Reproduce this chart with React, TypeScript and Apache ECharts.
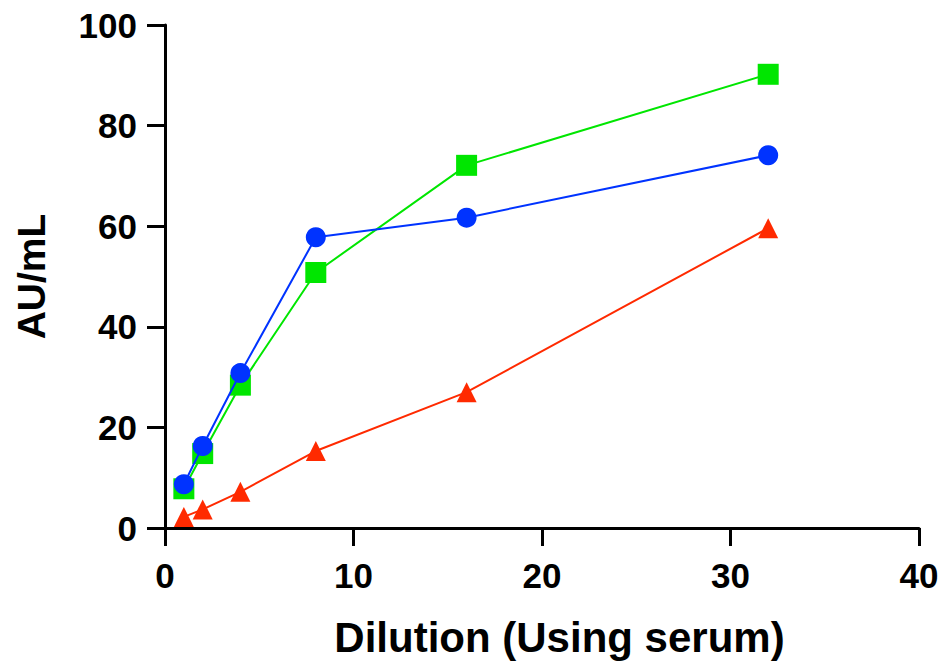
import React, { useEffect, useRef } from "react";
import * as echarts from "echarts";

const dilutions = [1, 2, 4, 8, 16, 32];
const blueCircles = [8.7, 16.3, 30.8, 57.8, 61.7, 74.1];
const greenSquares = [7.8, 14.8, 28.4, 50.8, 72.1, 90.2];
const redTriangles = [2.2, 3.7, 7.2, 15.3, 27.0, 59.6];

const xTitle = "Dilution (Using serum)";
const yTitle = "AU/mL";

const FONT = "Liberation Sans, Arial, Helvetica, sans-serif";

export default function App() {
  const ref = useRef<HTMLDivElement>(null);
  useEffect(() => {
    if (!ref.current) return;
    const chart = echarts.init(ref.current, undefined, { renderer: "svg" });
    const pairs = (ys: number[]) => dilutions.map((x, i) => [x, ys[i]]);
    const axisCommon = {
      axisLine: { show: true, lineStyle: { color: "#000", width: 3 } },
      axisTick: { show: true, length: 18, lineStyle: { color: "#000", width: 3 } },
      splitLine: { show: false },
    };
    chart.setOption({
      animation: false,
      backgroundColor: "#fff",
      grid: { left: 165, right: 27, top: 25, bottom: 136, containLabel: false },
      xAxis: {
        type: "value",
        min: 0,
        max: 40,
        interval: 10,
        name: xTitle,
        nameLocation: "middle",
        nameGap: 88,
        nameTextStyle: {
          fontFamily: FONT,
          fontWeight: "bold",
          fontSize: 42,
          color: "#000",
          padding: [0, 0, 0, 35],
        },
        ...axisCommon,
        axisLabel: { fontFamily: FONT, fontWeight: "bold", fontSize: 35, color: "#000", margin: 30 },
      },
      yAxis: {
        type: "value",
        min: 0,
        max: 100,
        interval: 20,
        name: yTitle,
        nameLocation: "middle",
        nameGap: 114,
        nameTextStyle: { fontFamily: FONT, fontWeight: "bold", fontSize: 39, color: "#000" },
        ...axisCommon,
        axisLabel: { fontFamily: FONT, fontWeight: "bold", fontSize: 35, color: "#000", margin: 28 },
      },
      series: [
        {
          type: "line",
          data: pairs(redTriangles),
          symbol: "triangle",
          symbolSize: 20,
          itemStyle: { color: "#ff2a00" },
          lineStyle: { color: "#ff2a00", width: 2 },
          z: 2,
        },
        {
          type: "line",
          data: pairs(greenSquares),
          symbol: "rect",
          symbolSize: 21,
          itemStyle: { color: "#00e600" },
          lineStyle: { color: "#00e600", width: 2 },
          z: 3,
        },
        {
          type: "line",
          data: pairs(blueCircles),
          symbol: "circle",
          symbolSize: 20,
          itemStyle: { color: "#0033ff" },
          lineStyle: { color: "#0033ff", width: 2 },
          z: 4,
        },
      ],
    });
    return () => chart.dispose();
  }, []);
  return (
    <div
      ref={ref}
      style={{ position: "absolute", left: 0, top: 0, width: 946, height: 664, background: "#fff" }}
    />
  );
}
